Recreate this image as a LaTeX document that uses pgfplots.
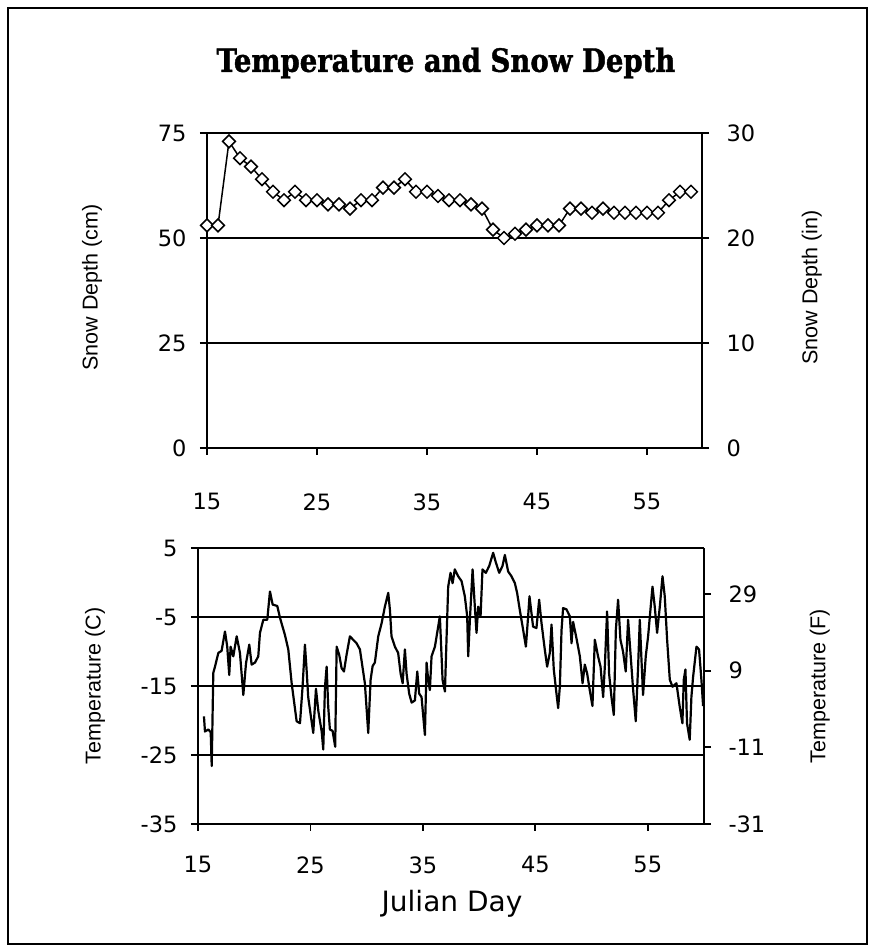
\documentclass[border=0pt]{standalone}
\usepackage{pgfplots}
\pgfplotsset{compat=1.18}
\usepackage{fontspec}
\setmainfont{DejaVu Sans}
\newfontfamily\tickfont{DejaVu Sans}
\newfontfamily\labelfont{Liberation Sans}
\newfontfamily\titlefont[FakeStretch=0.86, BoldFeatures={FakeBold=1.3}]{DejaVu Serif}
\newcommand\sidefont{\labelfont\fontsize{21.5}{21.5}\selectfont}

% Daily snow depth (cm)
\pgfplotstableread{
day depth
15 53
16 53
17 73
18 69
19 67
20 64
21 61
22 59
23 61
24 59
25 59
26 58
27 58
28 57
29 59
30 59
31 62
32 62
33 64
34 61
35 61
36 60
37 59
38 59
39 58
40 57
41 52
42 50
43 51
44 52
45 53
46 53
47 53
48 57
49 57
50 56
51 57
52 56
53 56
54 56
55 56
56 56
57 59
58 61
59 61
}\snowtable

% Air temperature (C)
\pgfplotstableread{
day temp
15.53 -19.4
15.62 -21.6
15.92 -21.3
16.13 -21.7
16.22 -26.6
16.36 -13.1
16.51 -12.2
16.81 -10.2
17.10 -9.9
17.40 -7.1
17.60 -9.3
17.78 -13.4
17.90 -9.3
18.14 -10.7
18.44 -7.8
18.73 -10.2
19.03 -16.3
19.27 -11.7
19.56 -9.0
19.77 -11.9
20.07 -11.6
20.36 -10.7
20.51 -7.3
20.81 -5.4
21.16 -5.4
21.40 -1.3
21.64 -3.2
22.05 -3.4
22.29 -5.1
22.73 -7.6
23.03 -9.7
23.33 -14.6
23.77 -20.1
24.07 -20.4
24.30 -15.1
24.51 -9.0
24.66 -12.7
24.80 -16.6
25.10 -20.1
25.25 -21.8
25.49 -15.4
25.70 -18.6
26.00 -21.6
26.14 -24.2
26.29 -15.2
26.44 -12.2
26.58 -18.0
26.73 -21.3
26.97 -21.5
27.20 -23.8
27.33 -9.3
27.56 -10.5
27.77 -12.4
27.98 -12.9
28.21 -10.5
28.51 -7.8
28.80 -8.3
29.10 -8.8
29.40 -9.7
29.84 -14.6
30.14 -21.8
30.35 -14.1
30.53 -12.1
30.73 -11.6
31.03 -7.8
31.33 -5.9
31.62 -3.5
31.92 -1.5
32.07 -4.0
32.21 -7.8
32.51 -9.3
32.80 -10.2
33.02 -13.2
33.20 -14.6
33.40 -9.7
33.55 -13.2
33.78 -16.1
34.00 -17.4
34.29 -17.1
34.50 -12.9
34.67 -16.1
34.88 -16.6
35.18 -22.1
35.33 -11.6
35.47 -14.1
35.62 -15.6
35.77 -10.7
36.07 -9.3
36.36 -6.4
36.51 -4.9
36.75 -14.1
36.96 -15.8
37.10 -8.3
37.25 -0.6
37.46 1.4
37.64 -0.1
37.84 1.9
38.14 0.9
38.44 0.2
38.73 -2.0
38.94 -4.9
39.03 -10.7
39.18 -5.4
39.42 1.9
39.62 -3.5
39.77 -7.3
39.92 -3.5
40.13 -4.9
40.30 1.9
40.60 1.4
40.90 2.4
41.25 4.3
41.49 2.9
41.79 1.4
42.08 2.4
42.29 4.0
42.58 1.6
42.88 0.9
43.18 -0.1
43.38 -1.5
43.62 -4.0
43.92 -6.9
44.16 -9.3
44.36 -4.9
44.48 -2.0
44.80 -6.4
45.10 -6.6
45.34 -2.5
45.55 -5.9
45.84 -9.7
46.05 -12.2
46.29 -10.2
46.44 -6.1
46.64 -12.6
46.88 -16.1
47.03 -18.2
47.18 -15.1
47.33 -6.9
47.47 -3.7
47.77 -3.9
48.07 -4.9
48.22 -8.8
48.36 -5.7
48.66 -8.1
48.96 -10.7
49.20 -14.6
49.40 -11.9
49.61 -13.2
49.84 -15.6
50.08 -17.9
50.29 -8.3
50.58 -10.7
50.80 -12.2
51.03 -16.6
51.18 -12.2
51.38 -4.2
51.56 -13.2
51.77 -16.6
51.98 -19.2
52.16 -6.9
52.36 -2.5
52.57 -8.3
52.80 -10.0
53.04 -12.9
53.25 -5.4
53.46 -10.2
53.70 -15.6
53.93 -20.1
54.14 -12.2
54.29 -5.4
54.44 -11.2
54.58 -16.3
54.82 -10.7
55.03 -7.8
55.24 -3.9
55.42 -0.6
55.62 -3.5
55.83 -7.3
56.07 -3.5
56.31 0.9
56.51 -2.0
56.72 -8.3
56.96 -14.1
57.20 -15.1
57.55 -14.6
57.84 -18.0
58.08 -20.4
58.20 -14.1
58.35 -12.6
58.49 -20.4
58.73 -22.8
58.88 -16.6
59.03 -13.7
59.33 -9.3
59.56 -9.7
59.77 -14.1
59.92 -17.9
}\temptable

\pgfplotsset{
  chartbase/.style={
    scale only axis,
    xmin=15, xmax=60,
    xtick={15,25,35,45,55},
    axis line style={black, line width=1.7pt, -},
    tick style={black, line width=1.7pt},
    major tick length=7pt,
    tick align=outside,
    minor tick num=0,
    tick label style={font=\tickfont\fontsize{22.5}{22.5}\selectfont},
    /pgf/number format/assume math mode=true,
    grid style={black, line width=1.7pt},
  },
}

\begin{document}
\begin{tikzpicture}[x=1pt, y=1pt]
\useasboundingbox (0,0) rectangle (875,951);
\draw[line width=2.5pt] (8,7) rectangle (867,943);

\node[font=\titlefont\bfseries\fontsize{32}{32}\selectfont] at (446,888) {Temperature and Snow Depth};

% ---- snow depth panel ----
\begin{axis}[chartbase,
  at={(207pt,503pt)}, anchor=south west,
  width=495pt, height=315pt,
  ymin=0, ymax=75, ytick={0,25,50,75},
  axis x line*=bottom, axis y line*=left,
  ymajorgrids,
  xticklabel style={yshift=-35pt},
  yticklabel style={xshift=-10pt},
  ylabel={Snow Depth (cm)},
  every axis y label/.style={at={(axis description cs:-0.232,0.51)}, rotate=90, anchor=center, font=\sidefont},
]
\addplot[black, line width=1.5pt, mark=square*, mark size=4.5pt,
  mark options={rotate=45, fill=white, line width=1.5pt}] table[x=day, y=depth] {\snowtable};
\end{axis}
\begin{axis}[chartbase,
  at={(207pt,503pt)}, anchor=south west,
  width=495pt, height=315pt,
  ymin=0, ymax=30, ytick={0,10,20,30},
  axis y line*=right, axis x line=none,
  yticklabel style={xshift=14pt},
  ylabel={Snow Depth (in)},
  every axis y label/.style={at={(axis description cs:1.222,0.51)}, rotate=90, anchor=center, font=\sidefont},
]
\end{axis}

% ---- temperature panel ----
\begin{axis}[chartbase,
  at={(198pt,127pt)}, anchor=south west,
  width=506pt, height=276pt,
  ymin=-35, ymax=5, ytick={-35,-25,-15,-5,5},
  axis x line*=bottom, axis y line*=left,
  ymajorgrids,
  xticklabel style={yshift=-22pt},
  yticklabel style={xshift=-10pt},
  xlabel={Julian Day},
  every axis x label/.style={at={(axis description cs:0.502,-0.29)}, anchor=center, font=\tickfont\fontsize{28}{28}\selectfont},
  ylabel={Temperature (C)},
  every axis y label/.style={at={(axis description cs:-0.2036,0.5)}, rotate=90, anchor=center, font=\sidefont},
]
\addplot[black, line width=2.2pt, line join=round] table[x=day, y=temp] {\temptable};
\end{axis}
\begin{axis}[chartbase,
  at={(198pt,127pt)}, anchor=south west,
  width=506pt, height=276pt,
  ymin=-31, ymax=41, ytick={-31,-11,9,29},
  axis y line*=right, axis x line=none,
  yticklabel style={xshift=14pt},
  ylabel={Temperature (F)},
  every axis y label/.style={at={(axis description cs:1.229,0.5)}, rotate=90, anchor=center, font=\sidefont},
]
\end{axis}
\end{tikzpicture}
\end{document}
